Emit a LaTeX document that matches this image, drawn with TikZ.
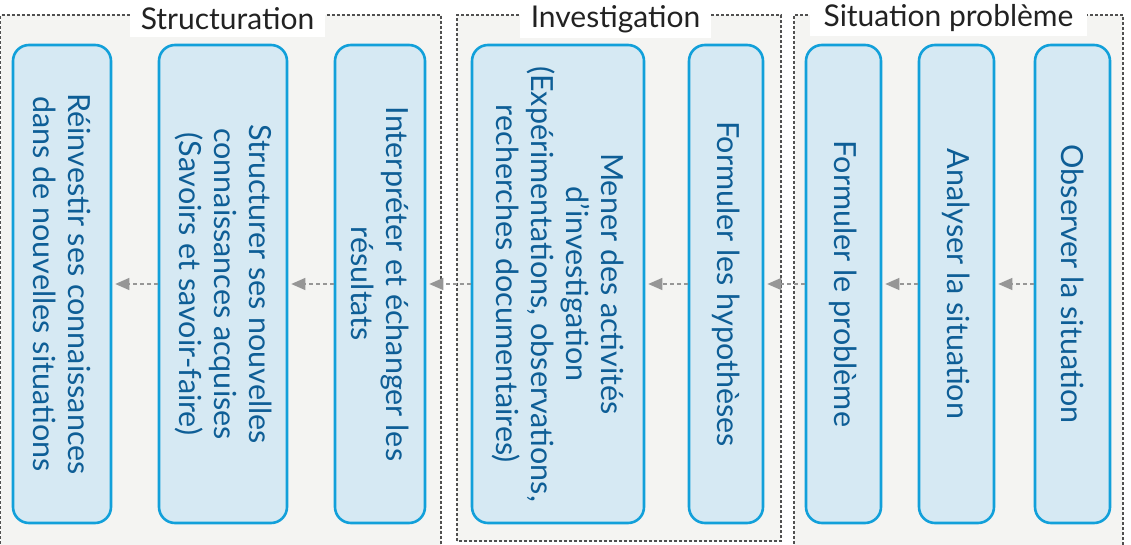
\documentclass[tikz,border=0pt]{standalone}
\usepackage{fontspec}
\setmainfont{Lato}
\usetikzlibrary{arrows.meta}
\definecolor{grpfill}{RGB}{244,244,242}
\definecolor{grpline}{RGB}{80,80,80}
\definecolor{boxfill}{RGB}{214,233,243}
\definecolor{boxline}{RGB}{18,160,218}
\definecolor{boxtext}{RGB}{14,94,150}
\definecolor{arrowgray}{RGB}{150,150,150}
\definecolor{titletext}{RGB}{34,34,34}
\begin{document}
\begin{tikzpicture}[x=1pt,y=1pt,
 group/.style={draw=grpline, fill=grpfill, line width=1.1pt, dash pattern=on 3pt off 2pt},
 grouptitle/.style={fill=white, inner sep=0pt, text=titletext, font=\fontsize{30}{34}\selectfont},
 stepbox/.style={draw=boxline, fill=boxfill, line width=2.6pt, rounded corners=16pt, inner sep=0pt, minimum height=478pt},
 steptext/.style={rotate=-90, align=center, text=boxtext, font=\fontsize{30.5}{35}\selectfont, inner sep=0pt},
 flow/.style={draw=arrowgray, line width=1.2pt, dash pattern=on 4pt off 3pt, -{Triangle[length=14pt,width=12pt]}, shorten >=3pt}
]
\useasboundingbox (0,0) rectangle (1131,544);
\fill[white] (0,0) rectangle (1131,544);
% groups
\draw[group] (0.6,-5) rectangle (441,529);
\draw[group] (457,3) rectangle (781,529);
\draw[group] (794,-5) rectangle (1123,529);
\node[grouptitle, minimum width=195pt, minimum height=37pt] (t1) at (227.5,525.5) {Structuration};
\node[grouptitle, minimum width=191pt, minimum height=38pt] (t2) at (615.5,525) {Investigation};
\node[grouptitle, minimum width=277pt, minimum height=36pt] (t3) at (948.5,526) {Situation problème};
% boxes
\node[stepbox, minimum width=98pt] (n1) at (62,260) {};
\node[stepbox, minimum width=128pt] (n2) at (223,260) {};
\node[stepbox, minimum width=90pt] (n3) at (380,260) {};
\node[stepbox, minimum width=172pt] (n4) at (558,260) {};
\node[stepbox, minimum width=74pt] (n5) at (726,260) {};
\node[stepbox, minimum width=75pt] (n6) at (843.5,260) {};
\node[stepbox, minimum width=75pt] (n7) at (956.5,260) {};
\node[stepbox, minimum width=75pt] (n8) at (1072.5,260) {};
% texts
\node[steptext] (l1) at (n1) {Réinvestir ses connaissances\\dans de nouvelles situations};
\node[steptext] (l2) at (n2) {Structurer ses nouvelles\\connaissances acquises\\(Savoirs et savoir-faire)};
\node[steptext] (l3) at (n3) {Interpréter et échanger les\\résultats};
\node[steptext] (l4) at (n4) {Mener des activités\\d'investigation\\(Expérimentations, observations,\\recherches documentaires)};
\node[steptext] (l5) at (n5) {Formuler les hypothèses};
\node[steptext] (l6) at (n6) {Formuler le problème};
\node[steptext] (l7) at (n7) {Analyser la situation};
\node[steptext] (l8) at (n8) {Observer la situation};
% arrows
\draw[flow] (n8.west) -- (n7.east);
\draw[flow] (n7.west) -- (n6.east);
\draw[flow] (n6.west) -- (n5.east);
\draw[flow] (n5.west) -- (n4.east);
\draw[flow] (n4.west) -- (n3.east);
\draw[flow] (n3.west) -- (n2.east);
\draw[flow] (n2.west) -- (n1.east);
\end{tikzpicture}
\end{document}
